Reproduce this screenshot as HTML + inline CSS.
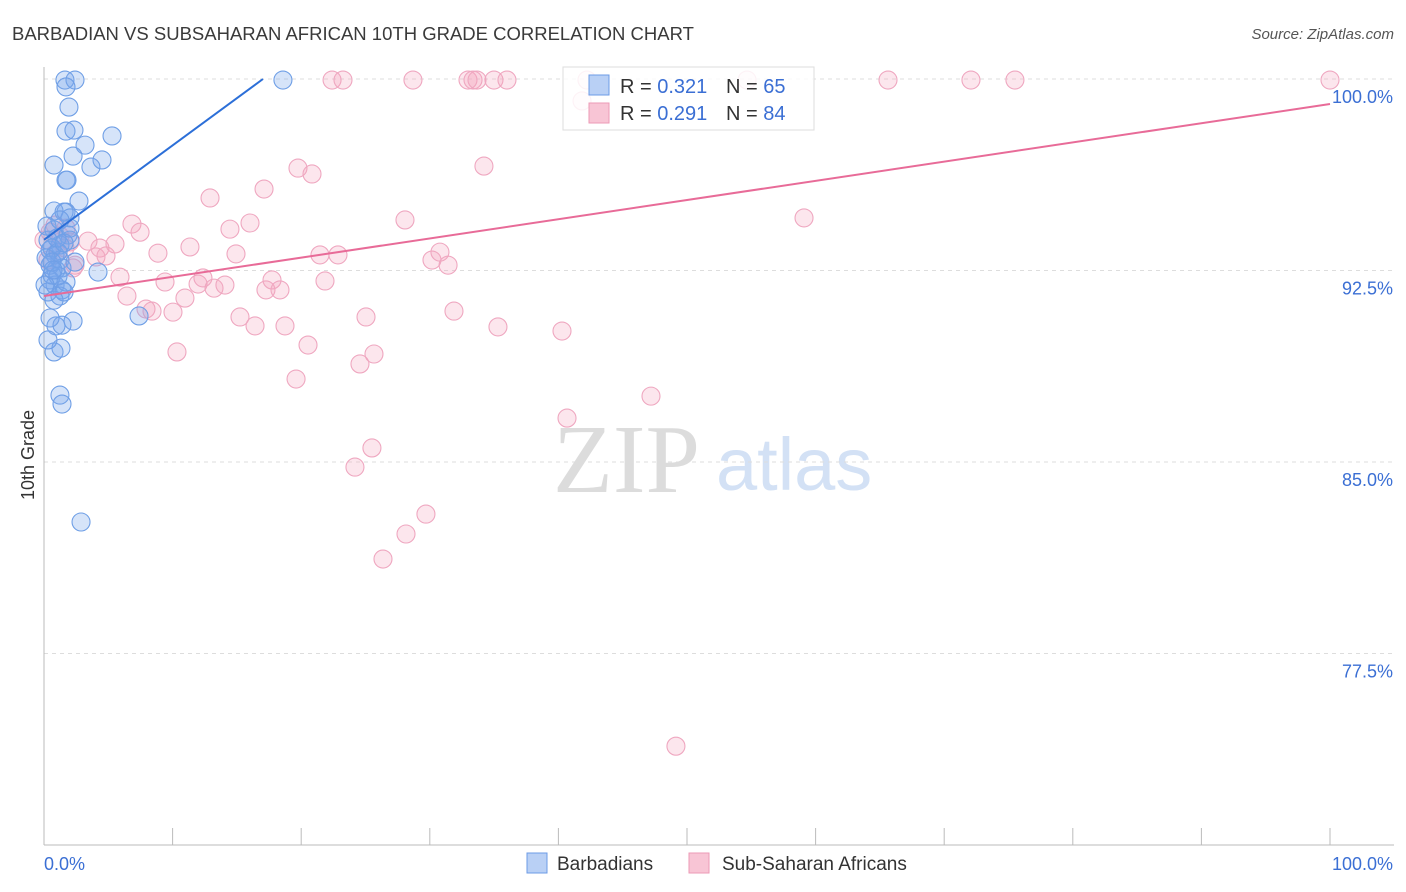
<!DOCTYPE html>
<html><head><meta charset="utf-8"><style>
body{margin:0;background:#fff;font-family:"Liberation Sans",sans-serif;}
svg{display:block}
</style></head><body>
<svg id="chart" width="1406" height="892">
<text x="12" y="40" font-size="18.5" fill="#3a3a3a">BARBADIAN VS SUBSAHARAN AFRICAN 10TH GRADE CORRELATION CHART</text>
<text x="1394" y="39" font-size="15" fill="#555" font-style="italic" text-anchor="end">Source: ZipAtlas.com</text>
<text transform="translate(34,455) rotate(-90)" font-size="18" fill="#333" text-anchor="middle">10th Grade</text>
<g>
<text x="553" y="492" font-family="Liberation Serif,serif" font-size="98" fill="#dcdcdc">ZIP</text>
<text x="716" y="490" font-size="74" fill="#d3e1f5">atlas</text>
</g>
<g id="grid"></g><g id="axes"></g><g id="pts"></g><g id="lines"></g>
<g>
<rect x="563" y="67" width="251" height="63" fill="#fff" fill-opacity="0.85" stroke="#ddd"/>
<rect x="589" y="75" width="20" height="20" fill="#b9d0f5" stroke="#6c9be6"/>
<rect x="589" y="103" width="20" height="20" fill="#f8c5d5" stroke="#ec9ab6"/>
<text x="620" y="93" font-size="20" fill="#333">R = <tspan fill="#3b6fd4">0.321</tspan></text>
<text x="726" y="93" font-size="20" fill="#333">N = <tspan fill="#3b6fd4">65</tspan></text>
<text x="620" y="120" font-size="20" fill="#333">R = <tspan fill="#3b6fd4">0.291</tspan></text>
<text x="726" y="120" font-size="20" fill="#333">N = <tspan fill="#3b6fd4">84</tspan></text>
</g>
<g>
<rect x="527" y="853" width="20" height="20" fill="#b9d0f5" stroke="#6c9be6"/>
<text x="557" y="870" font-size="19" fill="#333">Barbadians</text>
<rect x="689" y="853" width="20" height="20" fill="#f8c5d5" stroke="#ec9ab6"/>
<text x="722" y="870" font-size="19" fill="#333">Sub-Saharan Africans</text>
</g>
<text x="44" y="870" font-size="18" fill="#3b6fd4">0.0%</text>
<text x="1393" y="870" font-size="18" fill="#3b6fd4" text-anchor="end">100.0%</text>
</svg>
<script>
const yTicks=[100,92.5,85,77.5];
const yTickLabels=["100.0%","92.5%","85.0%","77.5%"];
const xTicks=[0,10,20,30,40,50,60,70,80,90,100];
const blueX=[1.63,2.41,1.71,1.94,1.71,2.33,5.29,3.19,2.26,4.51,0.78,3.65,1.71,1.79,2.72,0.78,1.71,2.02,1.56,0.78,1.87,2.02,1.24,0.47,0.86,1.24,0.47,0.93,1.4,4.2,0.47,0.86,1.4,1.24,0.31,2.26,0.93,1.4,7.39,0.78,1.32,1.24,1.4,2.88,18.58,0.31,0.62,1.09,0.16,0.62,1.56,2.41,1.01,0.23,1.56,2.02,0.62,0.78,0.47,0.31,1.09,0.08,1.71,1.24,0.7];
const blueY=[99.96,99.96,99.69,98.9,97.96,98.0,97.77,97.41,96.98,96.83,96.63,96.55,96.04,96.04,95.22,94.83,94.79,94.56,94.79,94.09,93.89,93.69,93.5,93.3,93.11,92.91,92.71,92.52,92.6,92.44,92.13,91.93,91.74,91.5,91.66,90.52,90.33,90.36,90.72,89.31,89.46,87.62,87.27,82.65,99.96,93.69,93.38,93.22,92.99,92.32,91.66,92.83,93.77,94.24,93.58,94.16,92.83,91.34,90.64,89.78,92.28,91.93,92.05,94.48,92.52];
const pinkX=[0,0.47,0.86,1.24,1.63,2.02,0.31,1.09,2.41,3.42,1.71,2.26,4.04,4.35,4.82,5.52,5.91,6.45,6.84,7.47,7.93,8.4,8.86,9.41,10.03,10.34,10.96,11.35,11.98,12.36,12.91,13.22,14.07,14.46,14.93,15.24,16.02,16.41,17.11,17.26,17.73,18.35,18.74,19.6,19.75,20.84,20.53,21.46,21.85,22.4,22.86,23.25,24.18,24.57,25.04,25.66,25.5,26.36,28.15,28.07,28.69,29.7,30.17,30.79,31.42,31.88,32.97,33.36,33.67,34.21,34.99,35.3,36.0,40.28,40.67,41.84,42.22,47.2,49.14,54.67,59.1,65.63,72.08,75.5,100];
const pinkY=[93.69,94.0,94.28,93.85,93.38,93.62,92.91,93.22,92.71,93.65,94.16,92.6,93.03,93.38,93.07,93.54,92.24,91.5,94.32,94.0,90.99,90.91,93.18,92.05,90.87,89.31,91.42,93.42,91.97,92.21,95.34,91.81,91.93,94.12,93.15,90.68,94.36,90.33,95.69,91.74,92.13,91.74,90.33,88.25,96.51,96.28,89.58,93.11,92.09,99.96,93.11,99.96,84.8,88.84,90.68,89.23,85.55,81.2,82.18,94.48,99.96,82.96,92.91,93.22,92.71,90.91,99.96,99.96,99.96,96.59,99.96,90.29,99.96,90.13,86.72,99.14,99.96,87.58,73.87,99.96,94.56,99.96,99.96,99.96,99.96];
const blueLine=[93.7,0.37];
const pinkLine=[91.5,0.0752];

const NS="http://www.w3.org/2000/svg";
const X0=44,X1=1330,YT=67,YB=845,Ymin=70,Ymax=100.47;
const sx=v=>X0+(X1-X0)*v/100;
const sy=v=>YB-(YB-YT)*(v-Ymin)/(Ymax-Ymin);
function mk(tag,attrs,parent){const e=document.createElementNS(NS,tag);for(const k in attrs)e.setAttribute(k,attrs[k]);parent.appendChild(e);return e;}
const grid=document.getElementById('grid'),axes=document.getElementById('axes'),pts=document.getElementById('pts'),lines=document.getElementById('lines');
yTicks.forEach((t,i)=>{
  const l=mk('line',{x1:X0,x2:1394,y1:sy(t),y2:sy(t),stroke:'#ddd','stroke-dasharray':'4,4'},grid);
  
  
  const tx=mk('text',{x:1393,y:sy(t)+24,'font-size':18,fill:'#3b6fd4','text-anchor':'end'},axes);
  tx.textContent=yTickLabels[i];
  
  
});
const ax=mk('line',{x1:X0,x2:1394,y1:YB,y2:YB,stroke:'#bbb'},axes);


const ay=mk('line',{x1:X0,x2:X0,y1:YT,y2:YB,stroke:'#bbb'},axes);


xTicks.forEach(t=>{
  const l=mk('line',{x1:sx(t),x2:sx(t),y1:828,y2:YB,stroke:'#bbb'},axes);
  
  
});
function drawPts(xs,ys,fill,stroke,name){
  xs.forEach((x,i)=>{
    const c=mk('circle',{cx:sx(x),cy:sy(ys[i]),r:9,fill:fill,stroke:stroke,'stroke-width':1.1},pts);
    
    
  });
}
drawPts(pinkX,pinkY,'rgba(244,165,192,0.28)','#efa7c0','point-subsaharan');
drawPts(blueX,blueY,'rgba(120,165,235,0.3)','#6f9fe6','point-barbadian');
const bxEnd=Math.min(100,(100-blueLine[0])/blueLine[1]);
const bl=mk('line',{x1:sx(0),y1:sy(blueLine[0]),x2:sx(bxEnd),y2:sy(blueLine[0]+blueLine[1]*bxEnd),stroke:'#2c6fd8','stroke-width':2},lines);


const pl=mk('line',{x1:sx(0),y1:sy(pinkLine[0]),x2:sx(100),y2:sy(pinkLine[0]+pinkLine[1]*100),stroke:'#e86b98','stroke-width':2},lines);


</script>
</body></html>
